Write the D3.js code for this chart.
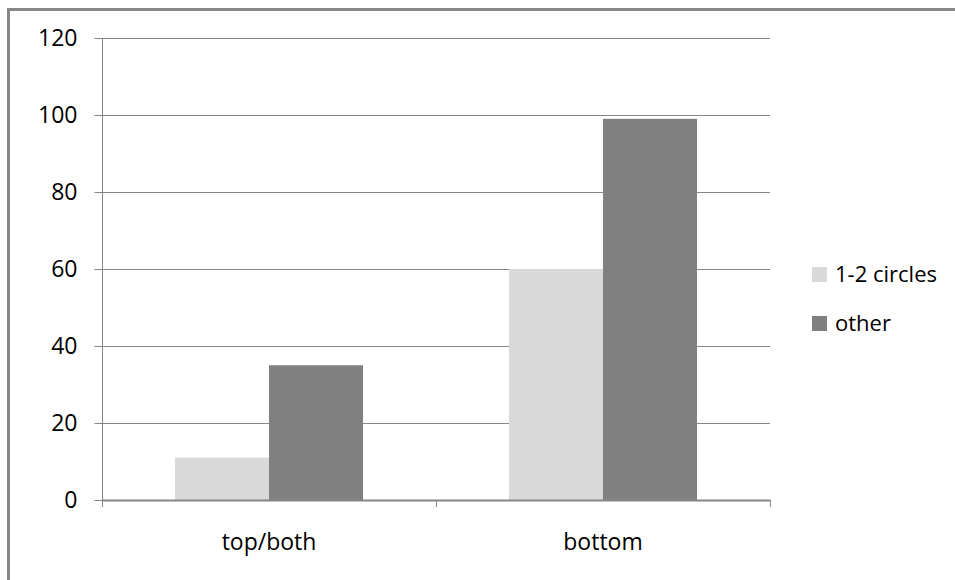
<!DOCTYPE html>
<html><head><meta charset="utf-8">
<script src="https://cdn.jsdelivr.net/npm/d3@7"></script>
<style>body{margin:0;background:#fff}svg{display:block}text{font-family:"Open Sans","Liberation Sans",sans-serif;fill:#000}</style>
</head><body><svg id="c" width="955" height="580"></svg>
<script>
const categories = ["top/both", "bottom"];
const seriesNames = ["1-2 circles", "other"];
const values_circles = [11, 60];
const values_other = [35, 99];
const yTicks = [0, 20, 40, 60, 80, 100, 120];
const colors = ["#d9d9d9", "#808080"];

const svg = d3.select("#c");
const margin = {left:102, right:770, top:38, bottom:500};
const FS = 23;

// outer border
svg.append("rect").attr("x",8.5).attr("y",9.5).attr("width",1000).attr("height",1000)
  .attr("fill","none").attr("stroke","#878787").attr("stroke-width",3);

const x0 = d3.scaleBand().domain(categories).range([margin.left, margin.right]).paddingInner(0.437).paddingOuter(0.2185);
const x1 = d3.scaleBand().domain(seriesNames).range([0, x0.bandwidth()]);
const y = d3.scaleLinear().domain([0,120]).range([margin.bottom, margin.top]);

// gridlines
svg.append("g").selectAll("line").data(yTicks.filter(d=>d>0)).join("line")
  .attr("x1",margin.left).attr("x2",margin.right)
  .attr("y1",d=>Math.round(y(d))+0.5).attr("y2",d=>Math.round(y(d))+0.5)
  .attr("stroke","#868686").attr("stroke-width",1);

const data = categories.map((c,i)=>({cat:c, vals:[values_circles[i], values_other[i]]}));
svg.append("g").selectAll("g").data(data).join("g")
  .attr("transform",d=>`translate(${x0(d.cat)},0)`)
  .selectAll("rect").data(d=>d.vals.map((v,j)=>({s:seriesNames[j],v,j}))).join("rect")
  .attr("x",d=>x1(d.s)).attr("width",x1.bandwidth())
  .attr("y",d=>y(d.v)).attr("height",d=>y(0)-y(d.v))
  .attr("fill",d=>colors[d.j]);

// y axis
const yAxis = d3.axisLeft(y).tickValues(yTicks).tickSize(8).tickPadding(17);
const gy = svg.append("g").attr("transform",`translate(${margin.left+0.5},0)`).call(yAxis);
gy.select(".domain").attr("stroke","#868686").attr("d",`M0,${margin.top}V${margin.bottom}`);
gy.selectAll(".tick line").attr("stroke","#868686");
gy.selectAll(".tick text").attr("font-size",FS).style("font-family","'Open Sans','Liberation Sans',sans-serif").attr("fill","#000");

// x axis
const xAxis = d3.axisBottom(x0).tickSize(0).tickPadding(34);
const gx = svg.append("g").attr("transform",`translate(0,${margin.bottom})`).call(xAxis);
gx.select(".domain").remove();
gx.selectAll(".tick text").attr("font-size",FS).style("font-family","'Open Sans','Liberation Sans',sans-serif").attr("fill","#000");
gx.append("line").attr("x1",margin.left).attr("x2",margin.right).attr("y1",0.5).attr("y2",0.5).attr("stroke","#868686").attr("stroke-width",2);
const bounds = [margin.left, ...categories.map(c=>x0(c)-x0.step()*x0.paddingInner()/2+x0.step())];
bounds[bounds.length-1] = margin.right;
gx.selectAll("line.sep").data(bounds).join("line").attr("class","sep")
  .attr("x1",d=>Math.round(d)+0.5).attr("x2",d=>Math.round(d)+0.5).attr("y1",0).attr("y2",7).attr("stroke","#868686");

// legend
const lg = svg.append("g").attr("transform","translate(812,267)");
seriesNames.forEach((s,i)=>{
  const g = lg.append("g").attr("transform",`translate(0,${i*49})`);
  g.append("rect").attr("width",15).attr("height",15).attr("fill",colors[i]);
  g.append("text").attr("x",23).attr("y",15).attr("font-size",FS-1).text(s);
});
</script></body></html>
